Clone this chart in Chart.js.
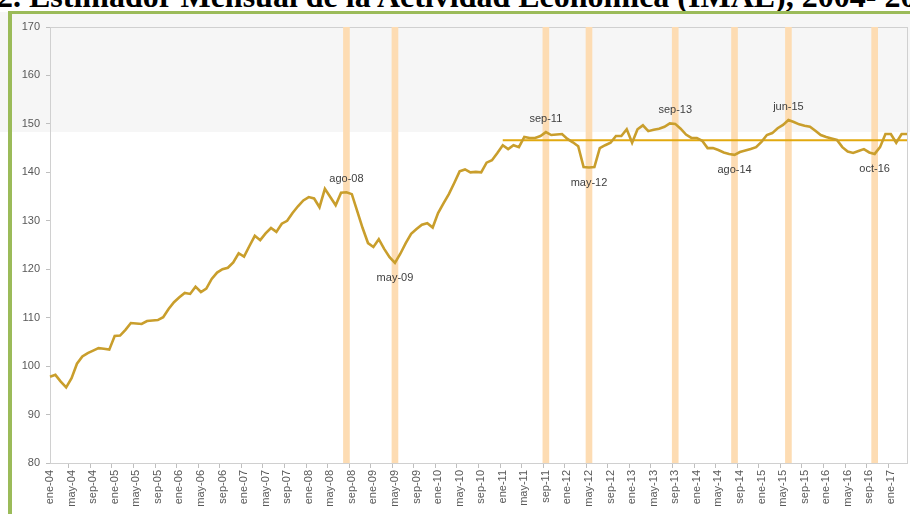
<!DOCTYPE html>
<html>
<head>
<meta charset="utf-8">
<script src="https://cdn.jsdelivr.net/npm/chart.js@4.4.0/dist/chart.umd.min.js"></script>
<style>
  html, body { margin: 0; padding: 0; }
  body { width: 910px; height: 514px; overflow: hidden; position: relative; background: #fff; }
  #shade { position: absolute; left: 0; top: 12px; width: 910px; height: 120px; background: #f6f6f6; }
  #title { position: absolute; left: -3px; top: -22px; white-space: nowrap;
           font: bold 32px "Liberation Serif", serif; color: #000; line-height: 36px; }
  #frameTop { position: absolute; left: 8px; top: 11px; width: 910px; height: 3px; background: #9bbb59; }
  #frameLeft { position: absolute; left: 8px; top: 11px; width: 4px; height: 510px; background: #9bbb59; }
  #wrap { position: absolute; left: 14px; top: 18px; width: 896px; height: 496px; }
</style>
</head>
<body>
<div id="shade"></div>
<div id="title">2. Estimador Mensual de la Actividad Económica (IMAE), 2004- 2017</div>
<div id="frameTop"></div>
<div id="frameLeft"></div>
<div id="wrap"><canvas id="imaeChart"></canvas></div>
<script>
// meses y años del eje x
const meses = ["ene", "feb", "mar", "abr", "may", "jun", "jul", "ago", "sep", "oct", "nov", "dic"];
const anios = ["04", "05", "06", "07", "08", "09", "10", "11", "12", "13", "14", "15", "16", "17"];
const ultimoMes = 3; // abr-17

const labels = [];
anios.forEach((a, k) => {
  meses.forEach((m, j) => {
    if (k === anios.length - 1 && j > ultimoMes) return;
    labels.push(m + "-" + a);
  });
});

// IMAE mensual
const imae = [
  97.8, 98.2, 96.8, 95.6, 97.5, 100.5, 102.0, 102.7, 103.2, 103.7, 103.6, 103.4,
  106.2, 106.3, 107.5, 108.9, 108.8, 108.7, 109.3, 109.4, 109.5, 110.1, 111.8, 113.2,
  114.2, 115.1, 114.9, 116.4, 115.3, 116.0, 118.0, 119.3, 120.0, 120.3, 121.4, 123.3,
  122.6, 124.8, 126.9, 126.0, 127.4, 128.5, 127.7, 129.4, 130.0, 131.6, 133.0, 134.2,
  134.9, 134.6, 132.8, 136.6, 134.9, 133.2, 135.8, 135.9, 135.5, 132.0, 128.5, 125.4,
  124.6, 126.2, 124.2, 122.5, 121.3, 123.2, 125.4, 127.3, 128.3, 129.2, 129.5, 128.6,
  131.6, 133.6, 135.5, 137.8, 140.2, 140.6, 140.0, 140.1, 140.0, 142.0, 142.5, 144.0,
  145.6, 144.8, 145.6, 145.2, 147.3, 147.1, 147.1, 147.5, 148.3, 147.7, 147.8, 147.9,
  146.9, 146.2, 145.4, 141.1, 141.0, 141.1, 145.0, 145.6, 146.1, 147.5, 147.5, 148.9,
  146.1, 148.9, 149.7, 148.5, 148.8, 149.0, 149.4, 150.1, 150.0, 149.0, 147.8, 147.1,
  147.1, 146.5, 145.0, 145.0, 144.6, 144.1, 143.8, 143.6, 144.2, 144.5, 144.8, 145.2,
  146.3, 147.7, 148.1, 149.1, 149.8, 150.8, 150.4, 149.9, 149.6, 149.4, 148.6, 147.7,
  147.3, 147.0, 146.7, 145.2, 144.3, 144.0, 144.4, 144.8, 144.1, 143.8, 145.2, 147.9,
  147.9, 146.1, 147.9, 147.9
];

// meses marcados con franja vertical
const marcas = ["ago-08", "may-09", "sep-11", "may-12", "sep-13", "ago-14", "jun-15", "oct-16"];
const marcaArriba = [true, false, true, false, true, false, true, false];

// nivel de referencia desde ene-11
const nivelRef = 146.6;
const inicioRef = "ene-11";

const yTicks = [80, 90, 100, 110, 120, 130, 140, 150, 160, 170];

const franjas = labels.map(l => marcas.includes(l) ? 170 : null);
const lineaRef = labels.map((l, i) => i >= labels.indexOf(inicioRef) ? nivelRef : null);

const etiquetas = {
  id: "etiquetas",
  beforeDatasetsDraw(chart) {
    const { ctx, chartArea } = chart;
    ctx.save();
    ctx.strokeStyle = "#d0d0d0";
    ctx.lineWidth = 1;
    ctx.strokeRect(chartArea.left + 0.5, chartArea.top + 0.5, chartArea.width, chartArea.height);
    ctx.restore();
  },
  afterDatasetsDraw(chart) {
    const { ctx, scales: { x, y } } = chart;
    ctx.save();
    ctx.font = '11px "Liberation Sans", sans-serif';
    ctx.fillStyle = "#404040";
    ctx.textAlign = "center";
    marcas.forEach((m, k) => {
      const i = labels.indexOf(m);
      const px = x.getPixelForValue(i);
      const py = y.getPixelForValue(imae[i]);
      if (marcaArriba[k]) {
        ctx.textBaseline = "bottom";
        ctx.fillText(m, px, py - 8);
      } else {
        ctx.textBaseline = "top";
        ctx.fillText(m, px, py + 10);
      }
    });
    ctx.restore();
  }
};

const ctx = document.getElementById("imaeChart").getContext("2d");

new Chart(ctx, {
  type: "line",
  data: {
    labels: labels,
    datasets: [
      {
        label: "IMAE",
        data: imae,
        borderColor: "#c99e2c",
        borderWidth: 2.6,
        pointRadius: 0,
        tension: 0,
        order: 1
      },
      {
        label: "Referencia",
        data: lineaRef,
        borderColor: "#e2a90f",
        borderWidth: 2,
        pointRadius: 0,
        order: 2
      },
      {
        type: "bar",
        label: "Marcas",
        data: franjas,
        backgroundColor: "#fddcb3",
        barThickness: 6,
        order: 3
      }
    ]
  },
  options: {
    responsive: true,
    maintainAspectRatio: false,
    animation: false,
    layout: { padding: { top: 9, right: 3, left: 0, bottom: 0 } },
    plugins: {
      legend: { display: false },
      tooltip: { enabled: false }
    },
    scales: {
      x: {
        offset: false,
        grid: {
          drawOnChartArea: false,
          tickLength: 5,
          color: c => (c.index % 4 === 0 ? "#bfbfbf" : "rgba(0,0,0,0)")
        },
        border: { color: "#bfbfbf" },
        ticks: {
          autoSkip: false,
          minRotation: 90,
          maxRotation: 90,
          color: "#595959",
          font: { family: "Liberation Sans", size: 11 },
          padding: 2,
          callback: (v, i) => (i % 4 === 0 ? labels[i] : "")
        },
        afterFit: s => { s.height = 51; s.paddingLeft = 0; s.paddingRight = 0; }
      },
      y: {
        min: 80,
        max: 170,
        afterBuildTicks: s => { s.ticks = yTicks.map(v => ({ value: v })); },
        grid: { drawOnChartArea: false, tickLength: 4, color: "#bfbfbf" },
        border: { color: "#bfbfbf" },
        ticks: {
          color: "#595959",
          font: { family: "Liberation Sans", size: 11 },
          padding: 6
        },
        afterFit: s => { s.width = 36; s.paddingTop = 0; s.paddingBottom = 0; }
      }
    }
  },
  plugins: [etiquetas]
});
</script>
</body>
</html>
